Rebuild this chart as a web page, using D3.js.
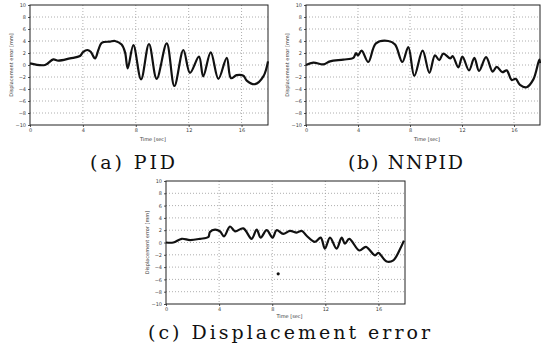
<!DOCTYPE html>
<html><head><meta charset="utf-8">
<script src="https://cdn.jsdelivr.net/npm/d3@7"></script>
<style>body{margin:0;background:#fff}svg{display:block}</style>
</head><body>
<svg id="c" width="545" height="357"></svg>
<script>
const xTicks = [0, 4, 8, 12, 16];
const yTicks = [10, 8, 6, 4, 2, 0, -2, -4, -6, -8, -10];
const xLabel = "Time [sec]";
const yLabel = "Displacement error [mm]";
const captions = ["(a) PID", "(b) NNPID", "(c) Displacement error"];

const timeA = [0,1.13,1.76,2.14,3.03,3.78,4.03,4.34,4.59,4.92,5.17,5.42,6.05,6.43,6.93,7.19,7.39,7.82,8.40,9.0,9.58,10.34,10.92,11.6,12.1,12.78,13.1,13.67,14.25,14.88,15.2,15.63,16.14,16.39,17.02,17.65,18.0];
const valA  = [0.28,0,0.94,0.72,1.1,1.5,2.2,2.5,2.2,1.1,2.5,3.7,3.9,4.0,3.4,2.1,-0.56,3.3,-2.4,3.5,-2.3,3.6,-3.5,2.5,-1.3,1.4,-1.9,2.1,-2.3,1.2,-2.2,-1.7,-1.8,-2.6,-3.2,-1.9,0.6];

const timeB = [0,0.56,1.33,1.85,2.87,3.64,3.85,4.0,4.28,4.79,5.38,6.33,6.85,7.41,7.87,8.33,8.97,9.49,9.92,10.25,10.56,11.1,11.28,11.72,12.03,12.54,12.95,13.31,13.85,14.36,14.67,15.1,15.44,15.82,16.13,16.46,16.97,17.49,17.95,18.0];
const valB  = [0,0.4,0.1,0.6,0.9,1.2,2.0,1.6,2.4,0.5,3.6,4.0,3.4,0.5,3.0,-1.8,2.4,-1.3,1.6,0.8,1.9,1.1,1.5,-0.4,1.4,-0.9,1.2,-1.0,1.3,-1.1,-0.3,-1.2,-0.9,-2.5,-2.3,-3.3,-3.7,-2.4,0.9,0.3];

const timeC = [0,0.55,1.18,1.81,2.56,3.19,3.31,3.69,4.07,4.37,4.82,5.2,5.82,6.45,6.83,7.13,7.58,8.03,8.33,8.83,9.34,9.84,10.22,10.59,11.22,11.65,11.97,12.35,12.85,13.23,13.48,13.8,14.56,15.06,15.74,15.99,16.62,17.12,17.62,17.92];
const valC  = [0,0,0.6,0.4,0.6,0.9,1.7,2.1,1.8,1.0,2.6,1.8,2.3,0.6,2.1,0.8,2.0,0.8,2.0,1.4,1.9,1.6,1.9,1.1,0.1,0.8,-1.0,0.8,-1.0,0.8,-0.2,0.6,-1.3,-0.7,-2.1,-1.7,-3.1,-2.9,-1.1,0.3];
const markC = [[8.45, -5.1]];

const svg = d3.select("#c");

function panel(box, times, vals, marks) {
  const x = d3.scaleLinear().domain([0, 18]).range([box.x0, box.x1]);
  const y = d3.scaleLinear().domain([-10, 10]).range([box.y1, box.y0]);
  const g = svg.append("g");
  g.selectAll(".gx").data(xTicks.slice(1)).join("line")
    .attr("x1", d => x(d)).attr("x2", d => x(d)).attr("y1", box.y0).attr("y2", box.y1)
    .attr("stroke", "#999").attr("stroke-width", 0.8).attr("stroke-dasharray", "1,2");
  g.selectAll(".gy").data(yTicks.slice(1, -1)).join("line")
    .attr("y1", d => y(d)).attr("y2", d => y(d)).attr("x1", box.x0).attr("x2", box.x1)
    .attr("stroke", "#999").attr("stroke-width", 0.8).attr("stroke-dasharray", "1,2");
  const ax = g.append("g").attr("transform", `translate(0,${box.y1})`)
    .call(d3.axisBottom(x).tickValues(xTicks).tickSize(2).tickPadding(1).tickFormat(d3.format("d")));
  const ay = g.append("g").attr("transform", `translate(${box.x0},0)`)
    .call(d3.axisLeft(y).tickValues(yTicks).tickSize(2).tickPadding(2).tickFormat(d3.format("d")));
  [ax, ay].forEach(a => {
    a.select(".domain").remove();
    a.selectAll("line").attr("stroke", "#555");
    a.selectAll("text").attr("font-size", 5).attr("fill", "#444").attr("font-family", "DejaVu Sans");
  });
  g.append("rect").attr("x", box.x0).attr("y", box.y0).attr("width", box.x1 - box.x0).attr("height", box.y1 - box.y0)
    .attr("fill", "none").attr("stroke", "#222").attr("stroke-width", 1);
  g.append("text").attr("x", (box.x0 + box.x1) / 2 + 4).attr("y", box.y1 + box.lab).attr("text-anchor", "middle")
    .attr("font-size", 5).attr("font-family", "DejaVu Sans").attr("fill", "#333").text(xLabel);
  g.append("text").attr("transform", `translate(${box.x0 - 17},${(box.y0 + box.y1) / 2}) rotate(-90)`)
    .attr("text-anchor", "middle").attr("font-size", 5).attr("font-family", "DejaVu Sans").attr("fill", "#333").text(yLabel);
  const line = d3.line().x(d => x(d[0])).y(d => y(d[1])).curve(d3.curveCatmullRom.alpha(0.5));
  g.append("path").datum(d3.zip(times, vals)).attr("d", line)
    .attr("fill", "none").attr("stroke", "#111").attr("stroke-width", 2.2).attr("stroke-linejoin", "round");
  if (marks) g.selectAll(".m").data(marks).join("circle")
    .attr("cx", d => x(d[0])).attr("cy", d => y(d[1])).attr("r", 1.6).attr("fill", "#111");
}

panel({x0: 30, x1: 268, y0: 5, y1: 125, lab: 16}, timeA, valA);
panel({x0: 306, x1: 540, y0: 5, y1: 125, lab: 16}, timeB, valB);
panel({x0: 166, x1: 405, y0: 181, y1: 304, lab: 14}, timeC, valC, markC);

const capPos = [{x: 90, y: 169, w: 85}, {x: 348, y: 169, w: 115}, {x: 148, y: 339, w: 282}];
captions.forEach((c, i) => {
  svg.append("text").attr("x", capPos[i].x).attr("y", capPos[i].y)
    .attr("font-family", "DejaVu Serif").attr("font-size", 19).attr("fill", "#111")
    .attr("textLength", capPos[i].w).attr("lengthAdjust", "spacing").text(c);
});
</script>
</body></html>
